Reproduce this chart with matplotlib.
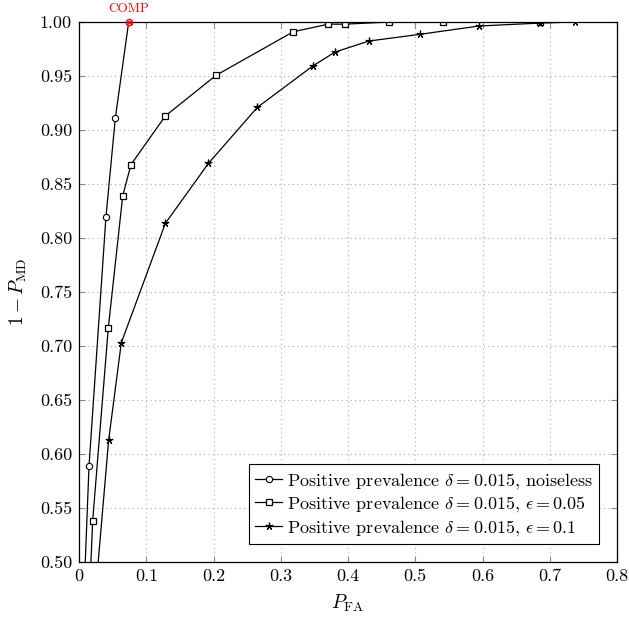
import matplotlib
matplotlib.use("Agg")
import matplotlib.pyplot as plt

plt.rcParams["font.family"] = "serif"
plt.rcParams["font.serif"] = ["cmr10", "DejaVu Serif"]
plt.rcParams["mathtext.fontset"] = "cm"
plt.rcParams["axes.formatter.use_mathtext"] = True

# noiseless
pfa_clean = [0.003, 0.0149, 0.040, 0.054, 0.0739]
pd_clean = [0.40, 0.589, 0.819, 0.911, 1.0]

# eps = 0.05
pfa_05 = [0.011, 0.0203, 0.0436, 0.065, 0.0773, 0.1284, 0.2037, 0.3187,
          0.3707, 0.3955, 0.461, 0.5418, 0.6855]
pd_05 = [0.40, 0.538, 0.717, 0.839, 0.868, 0.913, 0.9506, 0.991,
         0.998, 0.998, 1.0, 1.0, 1.0]

# eps = 0.1
pfa_10 = [0.0147, 0.0441, 0.0629, 0.1284, 0.1923, 0.2652, 0.3484, 0.3807,
          0.4312, 0.507, 0.5948, 0.6855, 0.7375]
pd_10 = [0.40, 0.613, 0.703, 0.8136, 0.869, 0.921, 0.9596, 0.9722,
         0.9824, 0.9886, 0.9963, 0.999, 1.0]

comp_x = [0.0739]
comp_y = [1.0]

xticks = [0, 0.1, 0.2, 0.3, 0.4, 0.5, 0.6, 0.7, 0.8]
xticklabels = ["0", "0.1", "0.2", "0.3", "0.4", "0.5", "0.6", "0.7", "0.8"]
yticks = [0.50, 0.55, 0.60, 0.65, 0.70, 0.75, 0.80, 0.85, 0.90, 0.95, 1.00]

fig = plt.figure(figsize=(6.29, 6.18), dpi=100)
ax = fig.add_axes([0.1256, 0.0906, 0.8554, 0.8738])

ax.plot(pfa_clean, pd_clean, color="black", lw=0.9, marker="o", ms=4.5,
        mfc="white", mec="black", mew=0.8,
        label=r"Positive prevalence $\delta = 0.015$, noiseless")
ax.plot(pfa_05, pd_05, color="black", lw=0.9, marker="s", ms=5,
        mfc="white", mec="black", mew=0.9,
        label=r"Positive prevalence $\delta = 0.015$, $\epsilon = 0.05$")
ax.plot(pfa_10, pd_10, color="black", lw=0.9, marker=(5, 2, 0), ms=5.5,
        mfc="black", mec="black", mew=0.9,
        label=r"Positive prevalence $\delta = 0.015$, $\epsilon = 0.1$")

ax.plot(comp_x, comp_y, marker="o", ms=4.5, mfc="none", mec="red", mew=0.9,
        clip_on=False, zorder=5)
ax.plot(comp_x, comp_y, marker="x", ms=3, color="red", mew=0.9,
        clip_on=False, zorder=5)
ax.annotate("COMP", (comp_x[0], comp_y[0]), xytext=(0, 5),
            textcoords="offset points", ha="center", va="bottom",
            color="red", fontsize=9.5)

ax.set_xlim(0, 0.8)
ax.set_ylim(0.5, 1.0)
ax.set_xticks(xticks)
ax.set_xticklabels(xticklabels)
ax.set_yticks(yticks)
ax.set_yticklabels(["%.2f" % v for v in yticks])
ax.tick_params(direction="in", top=True, right=True, labelsize=13,
               length=4, color="#888888", pad=5)
ax.grid(True, linestyle=(0, (1, 3)), color="#aaaaaa", lw=0.8)

ax.set_xlabel(r"$P_{\rm FA}$", fontsize=14, labelpad=6)
ax.set_ylabel(r"$1 - P_{\rm MD}$", fontsize=14, labelpad=8)

leg = ax.legend(loc="lower right", fontsize=13, fancybox=False,
                framealpha=1, edgecolor="black", handlelength=1.5,
                handletextpad=0.25, borderpad=0.35, labelspacing=0.2,
                borderaxespad=1.0)
leg.get_frame().set_linewidth(0.8)

for s in ax.spines.values():
    s.set_linewidth(0.9)

fig.savefig("out.png", dpi=100)
